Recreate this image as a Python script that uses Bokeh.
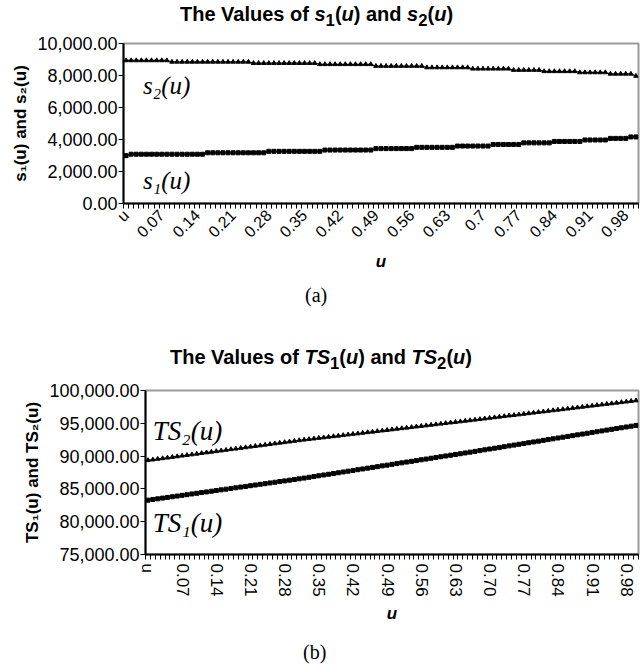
import math
from bokeh.plotting import figure
from bokeh.layouts import column
from bokeh.models import Range1d, FixedTicker, NumeralTickFormatter, Label, Div
from bokeh.embed import file_html
from bokeh.resources import INLINE

# ---------------- data ----------------
# categories: first cell is the header "u", then u = 0.01 ... 1.00
u_categories = ["u"] + [f"{k / 100:g}" for k in range(1, 101)]
tick_labels_a = ["u", "0.07", "0.14", "0.21", "0.28", "0.35", "0.42", "0.49",
                 "0.56", "0.63", "0.7", "0.77", "0.84", "0.91", "0.98"]
tick_labels_b = ["u", "0.07", "0.14", "0.21", "0.28", "0.35", "0.42", "0.49",
                 "0.56", "0.63", "0.70", "0.77", "0.84", "0.91", "0.98"]

s1 = [2990, 3080, 3080, 3080, 3080, 3080, 3080, 3080, 3080, 3080,
      3080, 3080, 3080, 3080, 3080, 3080, 3170, 3170, 3170, 3170,
      3170, 3170, 3170, 3170, 3170, 3170, 3170, 3170, 3260, 3260,
      3260, 3260, 3260, 3260, 3260, 3260, 3260, 3260, 3260, 3340,
      3340, 3340, 3340, 3340, 3340, 3340, 3340, 3340, 3340, 3430,
      3430, 3430, 3430, 3430, 3430, 3430, 3430, 3510, 3510, 3510,
      3510, 3510, 3510, 3510, 3510, 3590, 3590, 3590, 3590, 3590,
      3590, 3590, 3690, 3690, 3690, 3690, 3690, 3690, 3790, 3790,
      3790, 3790, 3790, 3790, 3880, 3880, 3880, 3880, 3880, 3880,
      3970, 3970, 3970, 3970, 3970, 4070, 4070, 4070, 4070, 4160,
      4160]

s2 = [8940, 8940, 8940, 8940, 8940, 8940, 8940, 8940, 8940, 8850,
      8850, 8850, 8850, 8850, 8850, 8850, 8850, 8850, 8850, 8850,
      8850, 8850, 8850, 8850, 8850, 8770, 8770, 8770, 8770, 8770,
      8770, 8770, 8770, 8770, 8770, 8770, 8770, 8770, 8700, 8700,
      8700, 8700, 8700, 8700, 8700, 8700, 8700, 8700, 8700, 8590,
      8590, 8590, 8590, 8590, 8590, 8590, 8590, 8590, 8590, 8500,
      8500, 8500, 8500, 8500, 8500, 8500, 8500, 8500, 8420, 8420,
      8420, 8420, 8420, 8420, 8420, 8420, 8340, 8340, 8340, 8340,
      8340, 8340, 8260, 8260, 8260, 8260, 8260, 8260, 8260, 8190,
      8190, 8190, 8190, 8190, 8190, 8100, 8100, 8100, 8100, 8100,
      7970]

ts1 = [83280,
       83390, 83490, 83600, 83700, 83810, 83910, 84020, 84120, 84230, 84330,
       84440, 84540, 84650, 84750, 84860, 84960, 85070, 85170, 85280, 85380,
       85490, 85590, 85700, 85800, 85910, 86010, 86120, 86220, 86330, 86430,
       86540, 86650, 86770, 86880, 87000, 87120, 87230, 87350, 87460, 87580,
       87700, 87810, 87930, 88040, 88160, 88280, 88390, 88510, 88620, 88740,
       88860, 88970, 89090, 89200, 89320, 89440, 89550, 89670, 89780, 89900,
       90020, 90130, 90250, 90360, 90480, 90600, 90720, 90840, 90960, 91080,
       91200, 91320, 91440, 91560, 91680, 91800, 91920, 92040, 92160, 92280,
       92400, 92520, 92640, 92760, 92880, 93000, 93120, 93240, 93360, 93480,
       93600, 93720, 93840, 93960, 94080, 94200, 94320, 94440, 94560, 94680]

ts2 = [89360,
       89460, 89560, 89650, 89750, 89850, 89950, 90050, 90140, 90240, 90340,
       90440, 90540, 90630, 90730, 90830, 90930, 91030, 91120, 91220, 91320,
       91420, 91520, 91610, 91710, 91810, 91910, 92010, 92100, 92200, 92300,
       92400, 92490, 92570, 92660, 92750, 92830, 92920, 93010, 93090, 93180,
       93270, 93360, 93440, 93530, 93620, 93700, 93790, 93880, 93960, 94050,
       94140, 94230, 94310, 94400, 94490, 94570, 94660, 94750, 94830, 94920,
       95010, 95100, 95180, 95270, 95360, 95440, 95530, 95620, 95710, 95800,
       95890, 95980, 96070, 96160, 96240, 96330, 96420, 96510, 96600, 96690,
       96780, 96870, 96960, 97050, 97130, 97220, 97310, 97400, 97490, 97580,
       97670, 97760, 97850, 97940, 98020, 98110, 98200, 98290, 98380, 98470]

yticks_a = [0, 2000, 4000, 6000, 8000, 10000]
yticks_b = [75000, 80000, 85000, 90000, 95000, 100000]

title_a = "The Values of <i>s</i><sub>1</sub>(<i>u</i>) and <i>s</i><sub>2</sub>(<i>u</i>)"
title_b = "The Values of <i>TS</i><sub>1</sub>(<i>u</i>) and <i>TS</i><sub>2</sub>(<i>u</i>)"

# ---------------- helpers ----------------
SANS = "Liberation Sans"
SERIF = "Liberation Serif"
x = list(range(len(u_categories)))
tick_idx = list(range(0, len(u_categories), 7))
boundaries = [i - 0.5 for i in range(len(u_categories) + 1)]


def style(p, labels, yticks, orientation, ylabel, xfont):
    p.xgrid.visible = False
    p.ygrid.visible = False
    p.outline_line_color = "#9a9a9a"
    p.outline_line_width = 2
    p.background_fill_color = "white"
    p.border_fill_color = "white"
    p.frame_align = False

    xa = p.xaxis[0]
    xa.ticker = FixedTicker(ticks=tick_idx, minor_ticks=boundaries)
    xa.major_label_overrides = {t: l for t, l in zip(tick_idx, labels)}
    xa.major_tick_out = 0
    xa.major_tick_in = 0
    xa.minor_tick_out = 5
    xa.minor_tick_in = 0
    xa.minor_tick_line_color = "black"
    xa.axis_line_color = "black"
    xa.axis_line_width = 2
    xa.major_label_orientation = orientation
    xa.major_label_text_font = SANS
    xa.major_label_text_font_size = xfont
    xa.major_label_text_color = "black"
    xa.major_label_standoff = 4
    xa.axis_label = "u"
    xa.axis_label_text_font = SANS
    xa.axis_label_text_font_style = "bold italic"
    xa.axis_label_text_font_size = "17px"
    xa.axis_label_text_color = "black"

    ya = p.yaxis[0]
    ya.ticker = FixedTicker(ticks=yticks)
    ya.formatter = NumeralTickFormatter(format="0,0.00")
    ya.major_tick_out = 5
    ya.major_tick_in = 0
    ya.minor_tick_out = 0
    ya.minor_tick_in = 0
    ya.axis_line_color = "black"
    ya.axis_line_width = 2
    ya.major_label_text_font = SANS
    ya.major_label_text_font_size = "18px"
    ya.major_label_text_color = "black"
    ya.major_label_standoff = 1
    ya.axis_label = ylabel
    ya.axis_label_text_font = SANS
    ya.axis_label_text_font_style = "bold"
    ya.axis_label_text_font_size = "17px"
    ya.axis_label_text_color = "black"
    ya.axis_label_standoff = 4


def text_div(html, height, top, left, font, size, weight):
    inner = (f'<div style="position:absolute; left:{left}px; top:{top}px; '
             f'white-space:nowrap; line-height:24px; font-family:\'{font}\'; '
             f'font-size:{size}; font-weight:{weight}; color:black;">{html}</div>')
    return Div(text=inner, width=640, height=height, margin=0,
               styles={"position": "relative", "overflow": "visible"})


# ---------------- panel (a) ----------------
div_title_a = text_div(title_a, 30, 2, 180, SANS, "20px", "bold")

p1 = figure(width=640, height=245, output_backend="svg", toolbar_location=None,
            x_range=Range1d(-0.5, len(u_categories) - 0.5), y_range=Range1d(0, 10000),
            min_border_left=123, min_border_right=2, min_border_top=13,
            min_border_bottom=72, margin=0)
style(p1, tick_labels_a, yticks_a, math.pi / 4, "s\u2081(u) and s\u2082(u)", "16px")
p1.xaxis[0].axis_label_standoff = 2
p1.line(x, s2, line_color="black", line_width=1.2)
p1.scatter(x, s2, marker="triangle", size=4.5, color="black")
p1.line(x, s1, line_color="black", line_width=1.2)
p1.scatter(x, s1, marker="square", size=4, color="black")
p1.add_layout(Label(x=3.3, y=7400, text="s\u2082(u)", text_font=SERIF,
                    text_font_style="italic", text_font_size="25px",
                    text_baseline="middle", text_color="black"))
p1.add_layout(Label(x=3.3, y=1450, text="s\u2081(u)", text_font=SERIF,
                    text_font_style="italic", text_font_size="25px",
                    text_baseline="middle", text_color="black"))

div_cap_a = text_div("(a)", 40, 8, 305, SERIF, "20px", "normal")

# ---------------- panel (b) ----------------
div_title_b = text_div(title_b, 60, 30, 170, SANS, "20px", "bold")

p2 = figure(width=640, height=250, output_backend="svg", toolbar_location=None,
            x_range=Range1d(-0.5, len(u_categories) - 0.5), y_range=Range1d(75000, 100000),
            min_border_left=145, min_border_right=2, min_border_top=15,
            min_border_bottom=70, margin=0)
style(p2, tick_labels_b, yticks_b, "vertical", "TS\u2081(u) and TS\u2082(u)", "17px")
p2.xaxis[0].axis_label_standoff = 4
p2.line(x, ts2, line_color="black", line_width=1.2)
p2.scatter(x, ts2, marker="triangle", size=4.5, color="black")
p2.line(x, ts1, line_color="black", line_width=1.0)
p2.scatter(x, ts1, marker="square", size=4, color="black")
p2.add_layout(Label(x=1.0, y=93900, text="TS\u2082(u)", text_font=SERIF,
                    text_font_style="italic", text_font_size="27px",
                    text_baseline="middle", text_color="black"))
p2.add_layout(Label(x=1.0, y=79850, text="TS\u2081(u)", text_font=SERIF,
                    text_font_style="italic", text_font_size="27px",
                    text_baseline="middle", text_color="black"))

div_cap_b = text_div("(b)", 40, 15, 303, SERIF, "20px", "normal")

layout = column(div_title_a, p1, div_cap_a, div_title_b, p2, div_cap_b,
                spacing=0, margin=0)
open("out.html", "w").write(file_html(layout, INLINE))
